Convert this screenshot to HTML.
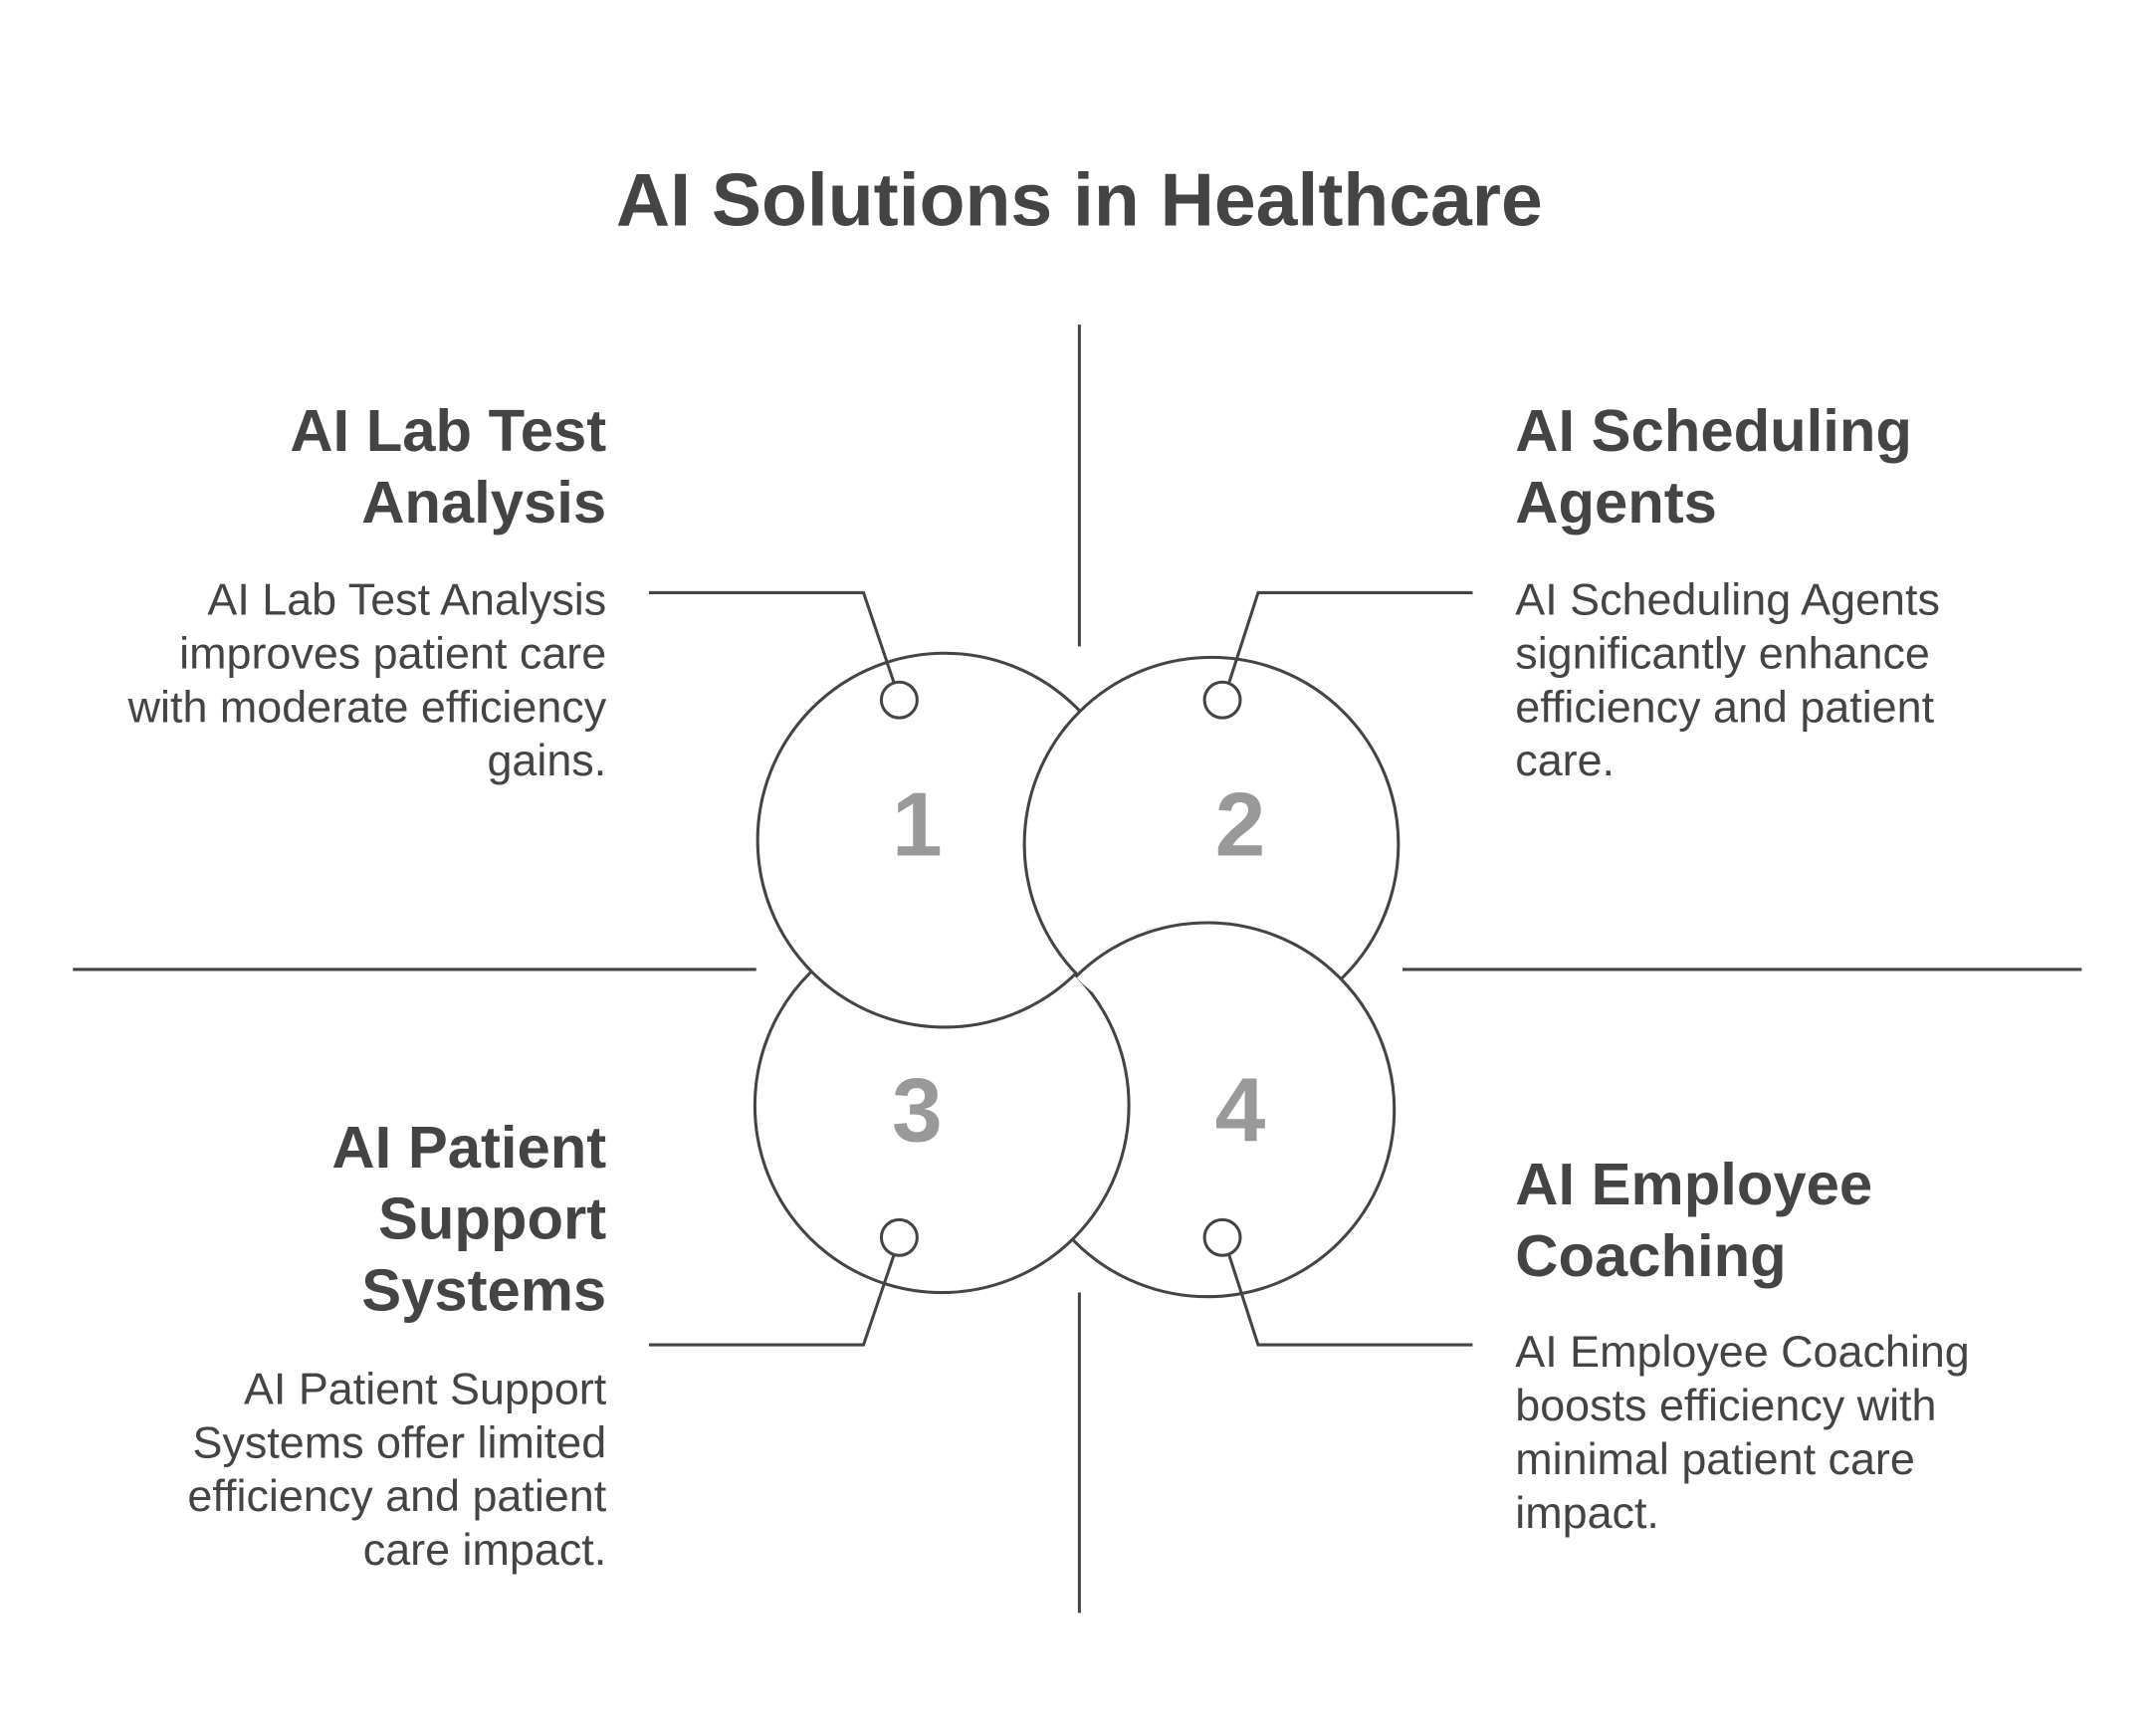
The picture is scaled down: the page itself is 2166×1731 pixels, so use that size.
<!DOCTYPE html>
<html><head><meta charset="utf-8"><style>
html,body{margin:0;padding:0;background:#fff;}
svg{display:block}
text{font-family:"Liberation Sans",Arial,sans-serif;fill:#444;}
.h{font-weight:bold;font-size:43.3px}
.b{font-size:32.5px}
.n{font-weight:bold;font-size:66px;fill:#999}
</style></head><body>
<svg width="2166" height="1731" viewBox="0 0 1568 1253" xmlns="http://www.w3.org/2000/svg">
<defs><clipPath id="c4"><circle cx="881" cy="614" r="138"/></clipPath></defs>
<text x="785" y="164" text-anchor="middle" style="font-weight:bold;font-size:54.4px">AI Solutions in Healthcare</text>
<g stroke="#444" stroke-width="2.2" fill="none">
<line x1="785" y1="236" x2="785" y2="470"/>
<line x1="785" y1="940" x2="785" y2="1173"/>
<line x1="53" y1="705" x2="550" y2="705"/>
<line x1="1020" y1="705" x2="1514" y2="705"/>
</g>
<g stroke="#444" stroke-width="2.2" fill="#fff">
<circle cx="878" cy="807" r="136"/>
<circle cx="685" cy="804" r="136"/>
<circle cx="687" cy="611" r="136"/>
<circle cx="881" cy="614" r="136"/>
<circle cx="878" cy="807" r="136" clip-path="url(#c4)"/>
</g>
<g stroke="#444" stroke-width="2.2" fill="none">
<polyline points="472,431 628,431 650,496"/>
<polyline points="1071,431 915,431 894,496"/>
<polyline points="472,978 628,978 650,913"/>
<polyline points="1071,978 915,978 894,913"/>
<circle cx="654" cy="509" r="13" fill="#fff"/>
<circle cx="889" cy="509" r="13" fill="#fff"/>
<circle cx="654" cy="900" r="13" fill="#fff"/>
<circle cx="889" cy="900" r="13" fill="#fff"/>
</g>
<text class="n" x="667" y="622" text-anchor="middle">1</text>
<text class="n" x="902" y="622" text-anchor="middle">2</text>
<text class="n" x="667" y="830" text-anchor="middle">3</text>
<text class="n" x="902" y="830" text-anchor="middle">4</text>

<g text-anchor="end">
<text class="h" x="441" y="328">AI Lab Test</text>
<text class="h" x="441" y="380">Analysis</text>
<text class="b" x="441" y="447">AI Lab Test Analysis</text>
<text class="b" x="441" y="486">improves patient care</text>
<text class="b" x="441" y="525">with moderate efficiency</text>
<text class="b" x="441" y="564">gains.</text>
<text class="h" x="441" y="849">AI Patient</text>
<text class="h" x="441" y="901">Support</text>
<text class="h" x="441" y="953">Systems</text>
<text class="b" x="441" y="1021">AI Patient Support</text>
<text class="b" x="441" y="1060">Systems offer limited</text>
<text class="b" x="441" y="1099">efficiency and patient</text>
<text class="b" x="441" y="1138">care impact.</text>
</g>
<g>
<text class="h" x="1102" y="328">AI Scheduling</text>
<text class="h" x="1102" y="380">Agents</text>
<text class="b" x="1102" y="447">AI Scheduling Agents</text>
<text class="b" x="1102" y="486">significantly enhance</text>
<text class="b" x="1102" y="525">efficiency and patient</text>
<text class="b" x="1102" y="564">care.</text>
<text class="h" x="1102" y="876">AI Employee</text>
<text class="h" x="1102" y="928">Coaching</text>
<text class="b" x="1102" y="994">AI Employee Coaching</text>
<text class="b" x="1102" y="1033">boosts efficiency with</text>
<text class="b" x="1102" y="1072">minimal patient care</text>
<text class="b" x="1102" y="1111">impact.</text>
</g>
</svg>
</body></html>
